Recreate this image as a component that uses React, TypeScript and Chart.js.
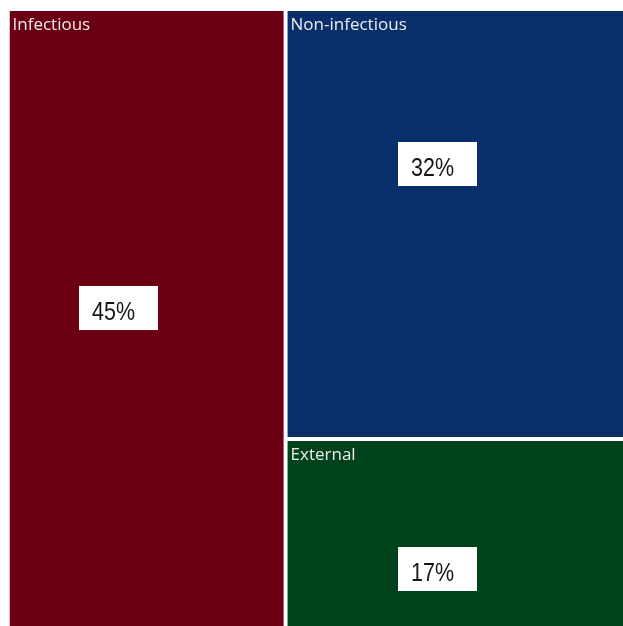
import React, { useEffect, useRef } from "react";
import { Chart, registerables } from "chart.js";

Chart.register(...registerables);

// ---- data ----
const categories = ["Infectious", "Non-infectious", "External"];
const shares = [45, 32, 17];
const valueLabels = ["45%", "32%", "17%"];

// ---- styles ----
const colors = ["#6a0012", "#082f6a", "#00421a"];
const labelAnchors = [
  [0.396, 0.404],
  [0.451, 0.357],
  [0.451, 0.572],
];

type Rect = { x0: number; x1: number; y0: number; y1: number };

function layout(values: number[]): Rect[] {
  // first category takes a full-height column; the rest are stacked in the remaining column
  const total = 100;
  const rects: Rect[] = [];
  const colW = (values[0] / total) * 100;
  rects.push({ x0: 0, x1: colW, y0: 0, y1: 100 });
  const restW = 100 - colW;
  let y = 0;
  for (let i = 1; i < values.length; i++) {
    const h = (values[i] / restW) * 100;
    rects.push({ x0: colW, x1: 100, y0: y, y1: y + h });
    y += h;
  }
  return rects;
}

const treemapPlugin = {
  id: "treemapCells",
  afterDraw(chart: any) {
    const ctx: CanvasRenderingContext2D = chart.ctx;
    const xs = chart.scales.x;
    const ys = chart.scales.y;
    const area = chart.chartArea;
    const rects = layout(shares);
    const gap = 2;
    ctx.save();
    ctx.beginPath();
    ctx.rect(area.left, area.top, area.right - area.left, area.bottom - area.top);
    ctx.clip();
    rects.forEach((r, i) => {
      let px0 = xs.getPixelForValue(r.x0);
      let px1 = xs.getPixelForValue(r.x1);
      let py0 = ys.getPixelForValue(r.y0);
      let py1 = ys.getPixelForValue(r.y1);
      if (r.x0 > 0) px0 += gap;
      if (r.x1 < 100) px1 -= gap;
      if (r.y0 > 0) py0 += gap;
      if (r.y1 < 100) py1 -= gap;
      ctx.fillStyle = colors[i];
      ctx.fillRect(px0, py0, px1 - px0, py1 - py0);

      // category title
      ctx.font = '17px "Open Sans"';
      ctx.fillStyle = "#ededed";
      ctx.textAlign = "left";
      ctx.textBaseline = "alphabetic";
      ctx.fillText(categories[i], px0 + 3, py0 + 18.5);

      // value label box
      const [ax, ay] = labelAnchors[i];
      const cx = xs.getPixelForValue(r.x0 + ax * (r.x1 - r.x0));
      const cy = ys.getPixelForValue(r.y0 + ay * (r.y1 - r.y0));
      const bw = 79;
      const bh = 44;
      const bx = Math.round(cx - bw / 2);
      const by = Math.round(cy - bh / 2);
      ctx.fillStyle = "#ffffff";
      ctx.fillRect(bx, by, bw, bh);
      ctx.save();
      ctx.translate(bx + 13, by + 34);
      ctx.scale(1, 1.22);
      ctx.font = '21.5px "Liberation Sans", Arial, sans-serif';
      ctx.fillStyle = "#151515";
      ctx.textAlign = "left";
      ctx.textBaseline = "alphabetic";
      ctx.fillText(valueLabels[i], 0, 0);
      ctx.restore();
    });
    ctx.restore();
  },
};

export default function App() {
  const canvasRef = useRef<HTMLCanvasElement | null>(null);

  useEffect(() => {
    if (!canvasRef.current) return;
    const chart = new Chart(canvasRef.current, {
      type: "scatter",
      data: { datasets: [{ data: [], showLine: false }] },
      options: {
        animation: false,
        responsive: false,
        maintainAspectRatio: false,
        layout: { padding: { left: 9.5, top: 11, right: 0, bottom: 0 } },
        plugins: { legend: { display: false }, tooltip: { enabled: false } },
        scales: {
          x: { type: "linear", min: 0, max: 100, display: false },
          y: { type: "linear", min: 0, max: 83.6, reverse: true, display: false },
        },
      },
      plugins: [treemapPlugin],
    });
    return () => chart.destroy();
  }, []);

  return (
    <div style={{ position: "fixed", left: 0, top: 0, width: 623, height: 626, background: "#ffffff" }}>
      <canvas ref={canvasRef} width={623} height={626} style={{ display: "block", width: 623, height: 626 }} />
    </div>
  );
}
